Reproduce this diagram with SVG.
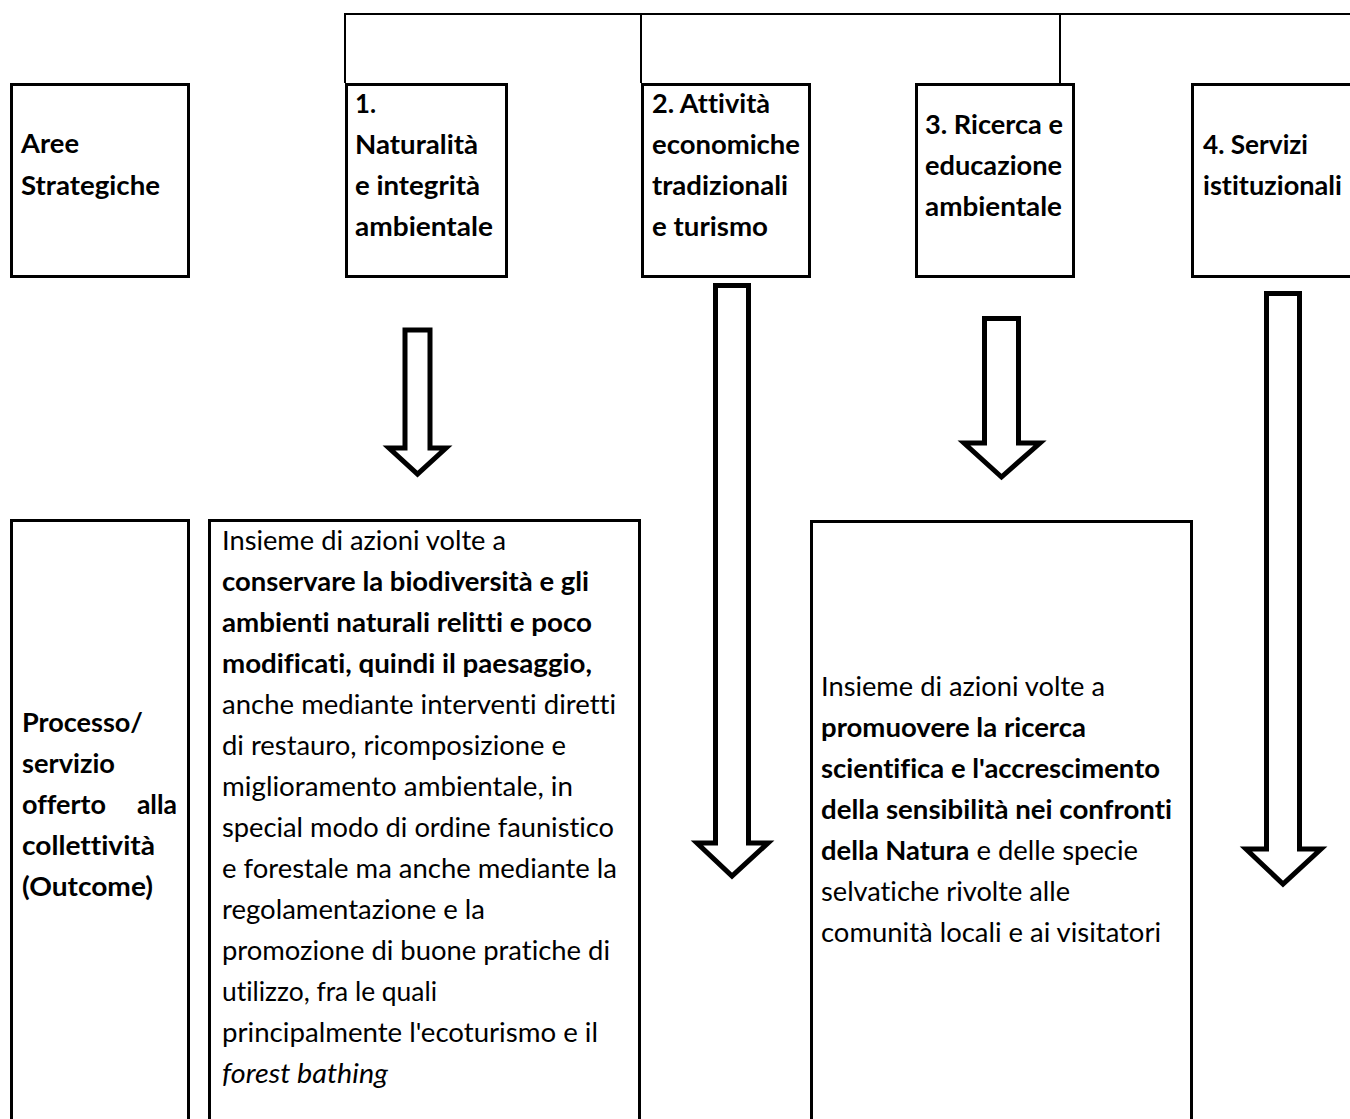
<svg xmlns="http://www.w3.org/2000/svg" width="1350" height="1119" viewBox="0 0 1350 1119">
<style>
.box{fill:#fff;stroke:#000;stroke-width:3}
.ln{fill:none;stroke:#000;stroke-width:2}
.arr{fill:#fff;stroke:#000;stroke-width:5;stroke-linejoin:miter}
text{font-family:Lato,"Open Sans","Liberation Sans",sans-serif;font-size:26.5px;fill:#000;font-variant-ligatures:none;font-feature-settings:"liga" 0,"clig" 0,"dlig" 0}
.b{font-weight:bold}
.i{font-style:italic}
</style>
<rect width="1350" height="1119" fill="#fff"/>
<g id="connectors">
<polyline class="ln" points="345,83 345,14 1352,14"/>
<line class="ln" x1="641" y1="14" x2="641" y2="83" stroke-width="1.5"/>
<line class="ln" x1="1060" y1="14" x2="1060" y2="83" stroke-width="1.5"/>
<polygon class="arr" points="405,330 430,330 430,448 446,448 417.5,474 389,448 405,448"/>
<polygon class="arr" points="715.5,285.5 748.5,285.5 748.5,843 768,843 732,876 697,843 715.5,843"/>
<polygon class="arr" points="984.5,318.5 1018.5,318.5 1018.5,443 1040,443 1001.5,477 964,443 984.5,443"/>
<polygon class="arr" points="1266.5,293.5 1299.5,293.5 1299.5,849 1321,849 1283,884 1246,849 1266.5,849"/>
</g>
<g id="aree">
<rect class="box" x="11.5" y="84.5" width="177" height="192"/>
<text class="b" x="21" y="153" textLength="58" lengthAdjust="spacingAndGlyphs">Aree</text>
<text class="b" x="21" y="195" textLength="139" lengthAdjust="spacingAndGlyphs">Strategiche</text>
</g>
<g id="area1">
<rect class="box" x="346.5" y="84.5" width="160" height="192"/>
<text class="b" x="355" y="113" textLength="21" lengthAdjust="spacingAndGlyphs">1.</text>
<text class="b" x="355" y="154" textLength="123" lengthAdjust="spacingAndGlyphs">Naturalità</text>
<text class="b" x="355" y="195" textLength="125" lengthAdjust="spacingAndGlyphs">e integrità</text>
<text class="b" x="355" y="236" textLength="138" lengthAdjust="spacingAndGlyphs">ambientale</text>
</g>
<g id="area2">
<rect class="box" x="642.5" y="84.5" width="167" height="192"/>
<text class="b" x="652" y="113" textLength="118" lengthAdjust="spacingAndGlyphs">2. Attività</text>
<text class="b" x="652" y="154" textLength="148" lengthAdjust="spacingAndGlyphs">economiche</text>
<text class="b" x="652" y="195" textLength="136" lengthAdjust="spacingAndGlyphs">tradizionali</text>
<text class="b" x="652" y="236" textLength="116" lengthAdjust="spacingAndGlyphs">e turismo</text>
</g>
<g id="area3">
<rect class="box" x="916.5" y="84.5" width="157" height="192"/>
<text class="b" x="925" y="134" textLength="138" lengthAdjust="spacingAndGlyphs">3. Ricerca e</text>
<text class="b" x="925" y="175" textLength="137" lengthAdjust="spacingAndGlyphs">educazione</text>
<text class="b" x="925" y="216" textLength="137" lengthAdjust="spacingAndGlyphs">ambientale</text>
</g>
<g id="area4">
<rect class="box" x="1192.5" y="84.5" width="170" height="192"/>
<text class="b" x="1203" y="154" textLength="105" lengthAdjust="spacingAndGlyphs">4. Servizi</text>
<text class="b" x="1203" y="195" textLength="139" lengthAdjust="spacingAndGlyphs">istituzionali</text>
</g>
<g id="processo">
<rect class="box" x="11.5" y="520.5" width="177" height="610"/>
<text class="b" x="22" y="732" textLength="121" lengthAdjust="spacingAndGlyphs">Processo/</text>
<text class="b" x="22" y="773" textLength="93" lengthAdjust="spacingAndGlyphs">servizio</text>
<text class="b" x="22" y="814" textLength="84" lengthAdjust="spacingAndGlyphs">offerto</text>
<text class="b" x="177" y="814" text-anchor="end">alla</text>
<text class="b" x="22" y="855" textLength="133" lengthAdjust="spacingAndGlyphs">collettività</text>
<text class="b" x="22" y="896" textLength="131" lengthAdjust="spacingAndGlyphs">(Outcome)</text>
</g>
<g id="outcome1">
<rect class="box" x="209.5" y="520.5" width="430" height="610"/>
<text x="222" y="550" textLength="284" lengthAdjust="spacingAndGlyphs">Insieme di azioni volte a</text>
<text class="b" x="222" y="591" textLength="367" lengthAdjust="spacingAndGlyphs">conservare la biodiversità e gli</text>
<text class="b" x="222" y="632" textLength="370" lengthAdjust="spacingAndGlyphs">ambienti naturali relitti e poco</text>
<text class="b" x="222" y="673" textLength="370" lengthAdjust="spacingAndGlyphs">modificati, quindi il paesaggio,</text>
<text x="222" y="714" textLength="394" lengthAdjust="spacingAndGlyphs">anche mediante interventi diretti</text>
<text x="222" y="755" textLength="344" lengthAdjust="spacingAndGlyphs">di restauro, ricomposizione e</text>
<text x="222" y="796" textLength="351" lengthAdjust="spacingAndGlyphs">miglioramento ambientale, in</text>
<text x="222" y="837" textLength="392" lengthAdjust="spacingAndGlyphs">special modo di ordine faunistico</text>
<text x="222" y="878" textLength="395" lengthAdjust="spacingAndGlyphs">e forestale ma anche mediante la</text>
<text x="222" y="919" textLength="263" lengthAdjust="spacingAndGlyphs">regolamentazione e la</text>
<text x="222" y="960" textLength="388" lengthAdjust="spacingAndGlyphs">promozione di buone pratiche di</text>
<text x="222" y="1001" textLength="215" lengthAdjust="spacingAndGlyphs">utilizzo, fra le quali</text>
<text x="222" y="1042" textLength="376" lengthAdjust="spacingAndGlyphs">principalmente l'ecoturismo e il</text>
<text class="i" x="222" y="1083" textLength="166" lengthAdjust="spacingAndGlyphs">forest bathing</text>
</g>
<g id="outcome3">
<rect class="box" x="811.5" y="521.5" width="380" height="610"/>
<text x="821" y="696" textLength="284" lengthAdjust="spacingAndGlyphs">Insieme di azioni volte a</text>
<text class="b" x="821" y="737" textLength="265" lengthAdjust="spacingAndGlyphs">promuovere la ricerca</text>
<text class="b" x="821" y="778" textLength="339" lengthAdjust="spacingAndGlyphs">scientifica e l'accrescimento</text>
<text class="b" x="821" y="819" textLength="351" lengthAdjust="spacingAndGlyphs">della sensibilità nei confronti</text>
<text x="821" y="860" textLength="317" lengthAdjust="spacingAndGlyphs"><tspan class="b">della Natura</tspan> e delle specie</text>
<text x="821" y="901" textLength="249" lengthAdjust="spacingAndGlyphs">selvatiche rivolte alle</text>
<text x="821" y="942" textLength="340" lengthAdjust="spacingAndGlyphs">comunità locali e ai visitatori</text>
</g>
</svg>
